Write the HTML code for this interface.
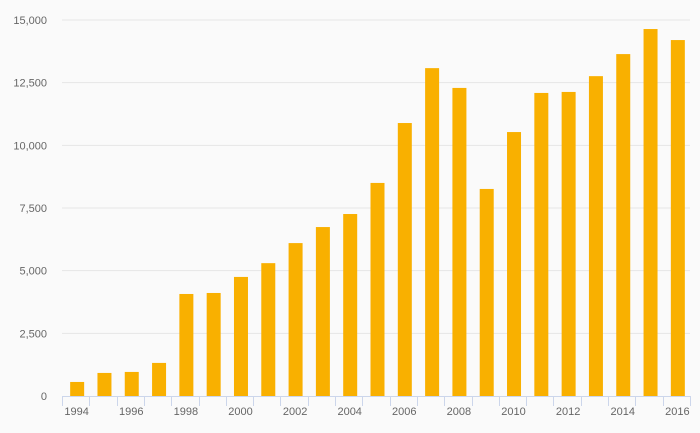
<!DOCTYPE html>
<html><head><meta charset="utf-8"><style>
html,body{margin:0;padding:0;background:#fafafa;}
svg{display:block;font-family:"Liberation Sans",sans-serif;}
</style></head><body>
<svg id="chart" width="700" height="433">
<rect width="700" height="433" fill="#fafafa"/>
<g id="grid"></g><g id="bars"></g><g id="xaxis"></g><g id="yaxis"></g>
</svg>
<script>
const years=[1994,1995,1996,1997,1998,1999,2000,2001,2002,2003,2004,2005,2006,2007,2008,2009,2010,2011,2012,2013,2014,2015,2016];
const values=[560,920,960,1320,4070,4110,4750,5300,6100,6740,7260,8500,10890,13080,12290,8260,10530,12090,12130,12760,13640,14640,14200];
const yTicks=[0,2500,5000,7500,10000,12500,15000];
const yTickLabels=["0","2,500","5,000","7,500","10,000","12,500","15,000"];
const NS="http://www.w3.org/2000/svg";
const x0=62,x1=690,yB=396,yT=20,yMax=15000;
const band=(x1-x0)/years.length;
function xScale(i){return x0+band*i;}
function yScale(v){return yB-(v/yMax)*(yB-yT);}
function mk(tag,attrs,parent){const e=document.createElementNS(NS,tag);for(const k in attrs)e.setAttribute(k,attrs[k]);document.getElementById(parent).appendChild(e);return e;}
yTicks.forEach((t,i)=>{
  const y=yScale(t);
  if(t>0){const l=mk('line',{x1:x0,x2:x1,y1:y,y2:y,stroke:'#e6e6e6','stroke-width':1},'grid');
  
  }
  const tx=mk('text',{x:47,y:y+4,'text-anchor':'end','font-size':11,fill:'#666'},'yaxis');
  tx.textContent=yTickLabels[i];
  
  
});
values.forEach((v,i)=>{
  const cx=xScale(i)+band/2+1.5,w=14;
  const r=mk('rect',{x:cx-w/2,y:yScale(v),width:w,height:yB-yScale(v),fill:'#f9b000'},'bars');
  
  
});
const ax=mk('line',{x1:x0,x2:x1,y1:yB+0.5,y2:yB+0.5,stroke:'#ccd6eb','stroke-width':1},'xaxis');


for(let i=0;i<=years.length;i++){
  const x=Math.round(xScale(i))+0.5;
  const t=mk('line',{x1:x,x2:x,y1:yB,y2:yB+10,stroke:'#ccd6eb','stroke-width':1},'xaxis');
  
  
}
years.forEach((yr,i)=>{
  if(i%2)return;
  const tx=mk('text',{x:xScale(i)+band/2+1,y:yB+19,'text-anchor':'middle','font-size':11,fill:'#666'},'xaxis');
  tx.textContent=yr;
  
  
});
</script>
</body></html>
